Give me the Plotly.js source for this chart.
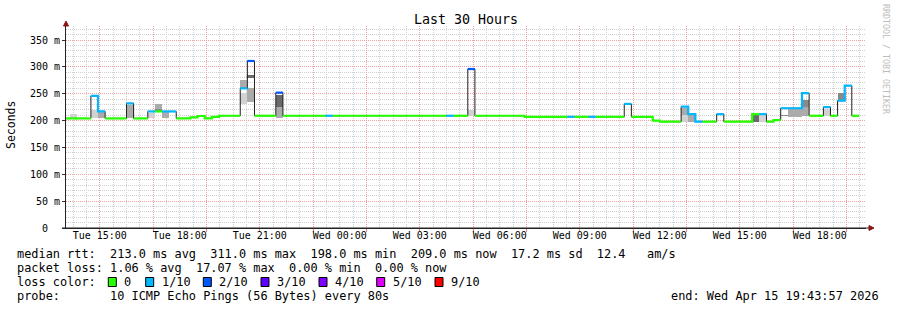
<!DOCTYPE html>
<html><head><meta charset="utf-8">
<script src="https://cdn.plot.ly/plotly-3.0.1.min.js"></script>
<style>html,body{margin:0;padding:0;background:#fff}#chart{width:897px;height:310px}</style>
</head><body><div id="chart"></div>
<script>
// ---- data (16-minute consolidated steps, first step starts Tue 2026-04-14 13:36) ----
const firstStepUTC = Date.UTC(2026, 3, 14, 13, 36, 0);
const stepMs = 16 * 60 * 1000;
const rangeStart = '2026-04-14 13:43:57';
const rangeEnd = '2026-04-15 19:43:57';

// median RTT per step (ms)
const medianRtt = [
  204,204,204,204,246,217,204,204,204,232,
  204,204,217,217,217,217,204,204,206,208.5,
  204,207,209,209,209,260,311,209,209,209,
  252,209,209,209,209,209,209,209,209,209,
  209,209,209,209,209,209,209,209,209,209,
  209,209,209,209,209,209,209,296,209,209,
  209,209,209,209,209,207,207,207,207,207,
  207,207,207,207,207,207,207,207,207,231,
  207,207,207,200,198,198,198,226,212,198,
  198,198,212,198,198,198,198,212,212,198,
  201,223,223,223,251,209,209,225,209,237,
  265,209
];
// loss bin per step (0 = 0/10, 1 = 1/10, 2 = 2/10 ...)
const lossBin = [
  0,0,0,0,1,1,0,0,0,1,
  0,0,1,0,1,1,0,0,0,0,
  0,0,0,0,0,1,2,0,0,0,
  2,0,0,0,0,0,0,1,0,0,
  0,0,0,0,0,0,0,0,0,0,
  0,0,0,0,1,0,0,2,0,0,
  0,0,0,0,0,0,0,0,0,0,
  0,1,0,0,1,0,0,0,0,1,
  0,0,0,0,0,0,0,1,1,1,
  0,0,1,0,0,0,0,0,1,0,
  0,1,1,1,1,0,0,1,0,1,
  1,0
];
// smoke bands (ping spread) : step index, low, high, density (1 light .. 4 dark)
const smokeStep    = [1,  4,  5,  9,  12, 13, 13, 14, 25, 25, 26, 26, 30, 30, 57, 87, 87, 88, 97, 98, 101,102,103,104,104,107,109];
const smokeLow     = [205,204,204,204,204,218,218,204,231,261,235,280,205,226,209,198,210,197,197,197,208,207,207,208,226,208,238];
const smokeHigh    = [213,220,216,229,215,231,221,216,251,276,260,284,226,248,220,210,224,210,210,210,210,221,221,226,238,221,252];
const smokeDensity = [1,  1,  2,  2,  1,  2,  3,  2,  1,  2,  2,  4,  2,  4,  1,  1,  2,  2,  4,  1,  3,  2,  2,  2,  3,  1,  3];

const yTickVals = [0,50,100,150,200,250,300,350];
const yTickText = ['0\u00a0\u00a0','50 m','100 m','150 m','200 m','250 m','300 m','350 m'];

const lossLabels = ['0','1/10','2/10','3/10','4/10','5/10','9/10'];
const lossColors = ['#26ff00','#00b8ff','#0059ff','#5e00ff','#7e00ff','#dd00ff','#ff0000'];
const smokeColors = ['#ffffff','#d2d2d2','#ababab','#8a8a8a','#6a6a6a'];

const statsLine1 = 'median rtt:  213.0 ms avg  311.0 ms max  198.0 ms min  209.0 ms now  17.2 ms sd  12.4   am/s';
const statsLine2 = 'packet loss: 1.06 % avg  17.07 % max  0.00 % min  0.00 % now';
const probeLine = 'probe:       10 ICMP Echo Pings (56 Bytes) every 80s';
const endLine = 'end: Wed Apr 15 19:43:57 2026';

// ---- build traces ----
const n = medianRtt.length;
const tStart = i => firstStepUTC + i * stepMs;

const smoke = {
  type: 'bar', xaxis: 'x', yaxis: 'y',
  x: smokeStep.map(s => tStart(s) + stepMs / 2),
  base: smokeLow,
  y: smokeHigh.map((h, i) => h - smokeLow[i]),
  width: smokeStep.map(() => stepMs),
  marker: { color: smokeDensity.map(d => smokeColors[d]), line: { width: 0 } },
  hoverinfo: 'skip', showlegend: false
};

const bx = [], by = [];
for (let i = 0; i < n; i++) { bx.push(tStart(i)); by.push(medianRtt[i]); }
bx.push(tStart(n)); by.push(medianRtt[n - 1]);
const blackLine = {
  type: 'scatter', mode: 'lines', xaxis: 'x2', yaxis: 'y',
  x: bx, y: by, line: { shape: 'hv', color: '#202020', width: 1 },
  hoverinfo: 'skip', showlegend: false
};

const lossTraces = [];
const bins = [...new Set(lossBin)].sort();
bins.forEach(b => {
  const x = [], y = [];
  for (let i = 0; i < n; i++) {
    if (lossBin[i] !== b) continue;
    x.push(tStart(i)); y.push(medianRtt[i]);
    x.push(tStart(i + 1)); y.push(medianRtt[i]);
    if (i + 1 >= n || lossBin[i + 1] !== b) { x.push(null); y.push(null); }
  }
  lossTraces.push({
    type: 'scatter', mode: 'lines', xaxis: 'x2', yaxis: 'y',
    x, y, line: { color: lossColors[b], width: 2.2 },
    connectgaps: false, hoverinfo: 'skip', showlegend: false
  });
});

// ---- layout ----
const W = 897, H = 310, mL = 66, mR = 31, mT = 26, mB = 82;
const pw = W - mL - mR, ph = H - mT - mB;
const px = v => (v - mL) / pw;
const py = v => (H - mB - v) / ph;
const mono = 'DejaVu Sans Mono';
const gridDash = '1px,1px';
const txt = (text, x, y, anchor, extra) => Object.assign({
  text: text.replace(/ /g, '\u00a0'), xref: 'paper', yref: 'paper', x: px(x), y: py(y),
  xanchor: anchor, yanchor: 'middle', showarrow: false,
  font: { family: mono, size: 11.9, color: '#000' } }, extra || {});

const annotations = [
  txt('Seconds', 11, 125, 'center', { textangle: -90, font: { family: mono, size: 11.5, color: '#000' } }),
  txt('RRDTOOL / TOBI OETIKER', 886, 59, 'center', { textangle: 90, font: { family: mono, size: 8.3, color: '#bdbdbd' } }),
  txt(statsLine1, 15, 254, 'left'),
  txt(statsLine2, 15, 268, 'left'),
  txt('loss color:', 15, 282, 'left'),
  txt(probeLine, 15, 296, 'left'),
  txt(endLine, 881, 296, 'right')
];
const legendLabelX = [123.3, 160.7, 218.3, 276, 334, 391.7, 450];
const shapes = [];
lossLabels.forEach((lab, i) => {
  annotations.push(txt(lab, legendLabelX[i] - 1, 282, 'left'));
  shapes.push({ type: 'rect', xref: 'paper', yref: 'paper',
    x0: px(legendLabelX[i] - 15), x1: px(legendLabelX[i] - 7), y0: py(286.5), y1: py(277.5),
    fillcolor: lossColors[i], line: { color: '#000', width: 1 } });
});
shapes.push({ type: 'line', xref: 'paper', yref: 'paper', x0: 0, x1: 0, y0: 1, y1: py(24), line: { color: '#222', width: 1 } });
shapes.push({ type: 'line', xref: 'paper', yref: 'paper', x0: px(62), x1: px(870), y0: 0, y1: 0, line: { color: '#222', width: 1 } });
shapes.push({ type: 'path', xref: 'paper', yref: 'paper',
  path: `M ${px(63.5)},${py(26)} L ${px(66)},${py(21)} L ${px(68.5)},${py(26)} Z`,
  fillcolor: '#8b1515', line: { color: '#8b1515', width: 1 } });
shapes.push({ type: 'path', xref: 'paper', yref: 'paper',
  path: `M ${px(869)},${py(225.5)} L ${px(874)},${py(228)} L ${px(869)},${py(230.5)} Z`,
  fillcolor: '#8b1515', line: { color: '#8b1515', width: 1 } });

const layout = {
  width: W, height: H, autosize: false,
  margin: { l: mL, r: mR, t: mT, b: mB, pad: 0, autoexpand: false },
  paper_bgcolor: '#fff', plot_bgcolor: '#fff',
  showlegend: false, barmode: 'overlay', bargap: 0,
  title: { text: 'Last 30 Hours', x: 0.5, xref: 'paper', xanchor: 'center', y: 1 - 19 / H, yanchor: 'middle',
    automargin: false, font: { family: mono, size: 13.3, color: '#000' } },
  xaxis: {
    type: 'date', range: [rangeStart, rangeEnd], fixedrange: true, automargin: false,
    dtick: 7200000, tick0: '2026-04-14 13:00',
    showgrid: true, gridcolor: '#f2a0a0', griddash: gridDash, gridwidth: 1,
    showticklabels: false, ticks: 'outside', ticklen: 3, tickcolor: '#e08080',
    showline: true, linecolor: '#222', linewidth: 1, zeroline: false,
    minor: { dtick: 1800000, showgrid: true, gridcolor: '#d0d0d0', griddash: gridDash, gridwidth: 1 }
  },
  xaxis2: {
    type: 'date', overlaying: 'x', anchor: 'y', side: 'bottom', range: [rangeStart, rangeEnd],
    fixedrange: true, automargin: false,
    dtick: 10800000, tick0: '2026-04-14 15:00', tickformat: '%a %H:%M',
    showgrid: false, ticks: '', showline: false, zeroline: false,
    tickfont: { family: mono, size: 10, color: '#000' }
  },
  yaxis: {
    range: [0, ph / 0.5371], fixedrange: true, automargin: false,
    tickmode: 'array', tickvals: yTickVals, ticktext: yTickText,
    showgrid: true, gridcolor: '#f2a0a0', griddash: gridDash, gridwidth: 1,
    ticks: 'outside', ticklen: 3, tickcolor: '#333',
    showline: true, linecolor: '#222', linewidth: 1, zeroline: false,
    tickfont: { family: mono, size: 10, color: '#000' },
    minor: { dtick: 10, tick0: 0, showgrid: true, gridcolor: '#d0d0d0', griddash: gridDash, gridwidth: 1 }
  },
  annotations, shapes
};

Plotly.newPlot('chart', [smoke, blackLine, ...lossTraces], layout, { staticPlot: true, displayModeBar: false });
</script>
</body></html>
